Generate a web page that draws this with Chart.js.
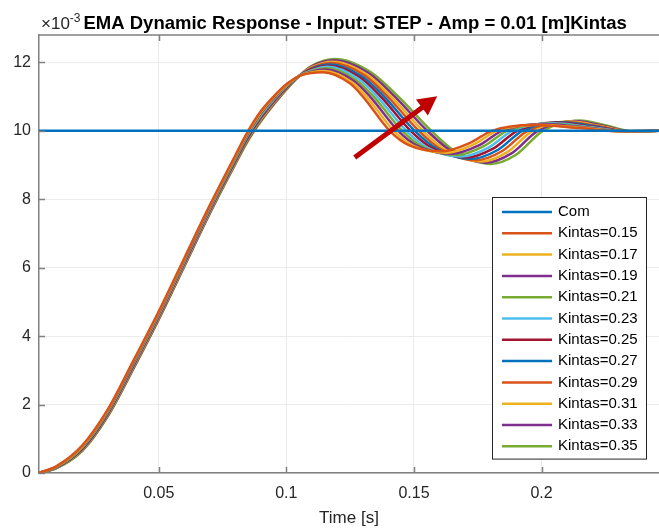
<!DOCTYPE html>
<html>
<head>
<meta charset="utf-8">
<title>EMA Dynamic Response</title>
<script src="https://cdn.jsdelivr.net/npm/chart.js@4.4.1/dist/chart.umd.min.js"></script>
<style>
    html, body { margin: 0; padding: 0; background: #fff; }
    #chart { display: block; }
</style>
</head>
<body>
<canvas id="chart" width="659" height="529"></canvas>
<script>
// --- Data (response in units of 1e-3 m) ---
const kintas = [0.15, 0.17, 0.19, 0.21, 0.23, 0.25, 0.27, 0.29, 0.31, 0.33, 0.35];

const comTime = [0.003, 0.246];
const comValues = [10, 10];

// rising part, same time samples for every Kintas value
const riseTime = [0.003, 0.01, 0.02, 0.03, 0.04, 0.05, 0.06, 0.07, 0.08, 0.085, 0.09, 0.095, 0.1, 0.105];
const riseValues = [
    [0, 0.20, 0.80, 1.85, 3.27, 4.72, 6.27, 7.82, 9.28, 9.99, 10.57, 11.00, 11.36, 11.6],
    [0, 0.19, 0.78, 1.83, 3.25, 4.70, 6.25, 7.80, 9.25, 9.96, 10.54, 10.98, 11.34, 11.6],
    [0, 0.19, 0.77, 1.81, 3.22, 4.67, 6.22, 7.77, 9.23, 9.93, 10.51, 10.95, 11.33, 11.6],
    [0, 0.18, 0.75, 1.79, 3.20, 4.65, 6.20, 7.75, 9.20, 9.91, 10.48, 10.93, 11.31, 11.6],
    [0, 0.18, 0.74, 1.77, 3.17, 4.62, 6.17, 7.72, 9.18, 9.88, 10.45, 10.90, 11.30, 11.6],
    [0, 0.17, 0.72, 1.75, 3.15, 4.60, 6.15, 7.70, 9.15, 9.85, 10.42, 10.88, 11.28, 11.6],
    [0, 0.16, 0.70, 1.73, 3.13, 4.58, 6.13, 7.68, 9.12, 9.82, 10.39, 10.86, 11.26, 11.6],
    [0, 0.16, 0.69, 1.71, 3.10, 4.55, 6.10, 7.65, 9.10, 9.79, 10.36, 10.83, 11.25, 11.6],
    [0, 0.15, 0.67, 1.69, 3.08, 4.53, 6.08, 7.63, 9.07, 9.77, 10.33, 10.81, 11.23, 11.6],
    [0, 0.15, 0.66, 1.67, 3.05, 4.50, 6.05, 7.60, 9.05, 9.74, 10.30, 10.78, 11.22, 11.6],
    [0, 0.14, 0.64, 1.65, 3.03, 4.48, 6.03, 7.58, 9.02, 9.71, 10.27, 10.76, 11.20, 11.6]
];

// oscillation part: peak, crossings, trough, second hump, settling
const waveTime = [
    [0.11, 0.1144, 0.125, 0.13, 0.1405, 0.148, 0.161, 0.172, 0.1805, 0.197, 0.215, 0.23, 0.246],
    [0.11, 0.1149, 0.1258, 0.1314, 0.1421, 0.1498, 0.1629, 0.1738, 0.1825, 0.1988, 0.216, 0.2306, 0.246],
    [0.11, 0.1153, 0.1266, 0.1328, 0.1438, 0.1516, 0.1648, 0.1756, 0.1845, 0.2006, 0.217, 0.2312, 0.246],
    [0.11, 0.1158, 0.1274, 0.1342, 0.1454, 0.1534, 0.1667, 0.1774, 0.1865, 0.2024, 0.218, 0.2318, 0.246],
    [0.11, 0.1162, 0.1282, 0.1356, 0.147, 0.1552, 0.1686, 0.1792, 0.1885, 0.2042, 0.219, 0.2324, 0.246],
    [0.11, 0.1167, 0.129, 0.137, 0.1487, 0.157, 0.1705, 0.181, 0.1905, 0.206, 0.22, 0.233, 0.246],
    [0.11, 0.1172, 0.1298, 0.1383, 0.1503, 0.1588, 0.1724, 0.1828, 0.1925, 0.2078, 0.221, 0.2336, 0.246],
    [0.11, 0.1176, 0.1306, 0.1397, 0.1519, 0.1606, 0.1743, 0.1846, 0.1945, 0.2096, 0.222, 0.2342, 0.246],
    [0.11, 0.1181, 0.1314, 0.1411, 0.1535, 0.1624, 0.1762, 0.1864, 0.1965, 0.2114, 0.223, 0.2348, 0.246],
    [0.11, 0.1185, 0.1322, 0.1425, 0.1552, 0.1642, 0.1781, 0.1882, 0.1985, 0.2132, 0.224, 0.2354, 0.246],
    [0.11, 0.119, 0.133, 0.1439, 0.1568, 0.166, 0.18, 0.19, 0.2005, 0.215, 0.225, 0.236, 0.246]
];
const waveValues = [
    [11.69, 11.71, 11.38, 11.0, 10.0, 9.58, 9.40, 9.65, 10.0, 10.17, 10.08, 9.99, 10.0],
    [11.71, 11.75, 11.41, 11.0, 10.0, 9.56, 9.36, 9.62, 10.0, 10.18, 10.09, 9.99, 10.0],
    [11.73, 11.79, 11.45, 11.0, 10.0, 9.55, 9.33, 9.58, 10.0, 10.20, 10.10, 9.99, 10.0],
    [11.75, 11.83, 11.48, 11.0, 10.0, 9.53, 9.29, 9.55, 10.0, 10.21, 10.10, 9.99, 10.0],
    [11.77, 11.87, 11.52, 11.0, 10.0, 9.51, 9.25, 9.51, 10.0, 10.22, 10.11, 9.99, 10.0],
    [11.80, 11.90, 11.55, 11.0, 10.0, 9.50, 9.22, 9.48, 10.0, 10.24, 10.12, 9.99, 10.0],
    [11.82, 11.94, 11.58, 11.0, 10.0, 9.48, 9.18, 9.44, 10.0, 10.25, 10.13, 9.98, 10.0],
    [11.84, 11.98, 11.62, 11.0, 10.0, 9.46, 9.14, 9.41, 10.0, 10.26, 10.14, 9.98, 10.0],
    [11.86, 12.02, 11.65, 11.0, 10.0, 9.44, 9.10, 9.37, 10.0, 10.27, 10.14, 9.98, 10.0],
    [11.88, 12.06, 11.69, 11.0, 10.0, 9.43, 9.07, 9.34, 10.0, 10.29, 10.15, 9.98, 10.0],
    [11.90, 12.10, 11.72, 11.0, 10.0, 9.41, 9.03, 9.30, 10.0, 10.30, 10.16, 9.98, 10.0]
];

const xLimits = [0.0031, 0.246];
const yLimits = [0, 12.8];
const xTicks = [0.05, 0.1, 0.15, 0.2];
const yTicks = [0, 2, 4, 6, 8, 10, 12];

// red arrow annotation (data coords: time, value)
const arrowTail = [0.1268, 9.22];
const arrowTip = [0.1591, 11.01];

const titleText = 'EMA Dynamic Response - Input: STEP - Amp = 0.01 [m]Kintas';
const xTitle = 'Time [s]';

// MATLAB default line colours
const palette = ['#0072BD', '#D95319', '#EDB120', '#7E2F8E', '#77AC30', '#4DBEEE', '#A2142F'];

const FONT = "'Liberation Sans', Arial, Helvetica, sans-serif";
Chart.defaults.font.family = FONT;

// --- Build datasets ---
function toPoints(xs, ys) {
    return xs.map((x, i) => ({ x: x, y: ys[i] }));
}

const datasets = [{
    label: 'Com',
    data: toPoints(comTime, comValues),
    borderColor: palette[0]
}];

kintas.forEach((k, i) => {
    datasets.push({
        label: 'Kintas=' + k.toFixed(2),
        data: toPoints(riseTime.concat(waveTime[i]), riseValues[i].concat(waveValues[i])),
        borderColor: palette[(i + 1) % palette.length]
    });
});

datasets.forEach(ds => {
    ds.borderWidth = 2.5;
    ds.pointRadius = 0;
    ds.fill = false;
    ds.cubicInterpolationMode = 'monotone';
});

// --- Plugins: MATLAB style frame, arrow, legend, title ---
const matlabFrame = {
    id: 'matlabFrame',
    afterDatasetsDraw(chart) {
        const { ctx, scales: { x, y } } = chart;
        ctx.save();

        // arrow
        const tx = x.getPixelForValue(arrowTail[0]), ty = y.getPixelForValue(arrowTail[1]);
        const px = x.getPixelForValue(arrowTip[0]), py = y.getPixelForValue(arrowTip[1]);
        const len = Math.hypot(px - tx, py - ty);
        const ux = (px - tx) / len, uy = (py - ty) / len;
        const hl = 19, hw = 10;
        ctx.strokeStyle = '#C00000';
        ctx.fillStyle = '#C00000';
        ctx.lineWidth = 5;
        ctx.beginPath();
        ctx.moveTo(tx, ty);
        ctx.lineTo(px - ux * (hl - 2), py - uy * (hl - 2));
        ctx.stroke();
        ctx.beginPath();
        ctx.moveTo(px, py);
        ctx.lineTo(px - ux * hl - uy * hw, py - uy * hl + ux * hw);
        ctx.lineTo(px - ux * hl + uy * hw, py - uy * hl - ux * hw);
        ctx.closePath();
        ctx.fill();
        ctx.restore();
    },
    afterDraw(chart) {
        const { ctx, chartArea: a, scales: { x, y } } = chart;
        ctx.save();

        // inward tick marks + top edge of the box
        ctx.strokeStyle = '#808080';
        ctx.lineWidth = 1.5;
        ctx.beginPath();
        xTicks.forEach(v => {
            const p = Math.round(x.getPixelForValue(v)) + 0.5;
            ctx.moveTo(p, a.bottom);
            ctx.lineTo(p, a.bottom - 6);
            ctx.moveTo(p, a.top);
            ctx.lineTo(p, a.top + 6);
        });
        yTicks.forEach(v => {
            const p = Math.round(y.getPixelForValue(v)) + 0.5;
            ctx.moveTo(a.left, p);
            ctx.lineTo(a.left + 6, p);
        });
        ctx.moveTo(a.left, a.top);
        ctx.lineTo(a.right, a.top);
        ctx.stroke();

        // legend box
        const sets = chart.data.datasets;
        const w = 154, rowH = 21.3;
        const h = sets.length * rowH + 6;
        const left = Math.round(a.right - 13 - w);
        const top = Math.round(a.bottom - 14 - h);
        ctx.fillStyle = '#fff';
        ctx.fillRect(left, top, w, h);
        ctx.strokeStyle = '#262626';
        ctx.lineWidth = 1;
        ctx.strokeRect(left + 0.5, top + 0.5, w, h);
        ctx.font = '15px ' + FONT;
        ctx.textBaseline = 'middle';
        ctx.textAlign = 'left';
        sets.forEach((ds, i) => {
            const yy = top + 15 + i * rowH;
            ctx.strokeStyle = ds.borderColor;
            ctx.lineWidth = 2.5;
            ctx.beginPath();
            ctx.moveTo(left + 10, yy);
            ctx.lineTo(left + 60, yy);
            ctx.stroke();
            ctx.fillStyle = '#000';
            ctx.fillText(ds.label, left + 66, yy);
        });

        // exponent label and title
        const base = a.top - 6;
        ctx.textBaseline = 'alphabetic';
        ctx.fillStyle = '#262626';
        ctx.font = '17px ' + FONT;
        let cx = a.left + 2;
        ctx.fillText('\u00d710', cx, base);
        cx += ctx.measureText('\u00d710').width;
        ctx.font = '12px ' + FONT;
        ctx.fillText('-3', cx, base - 7);
        cx += ctx.measureText('-3').width + 3;
        ctx.fillStyle = '#000';
        ctx.font = 'bold 18.5px ' + FONT;
        ctx.fillText(titleText, cx, base);

        ctx.restore();
    }
};

// --- Chart ---
const ctx = document.getElementById('chart').getContext('2d');
const chart = new Chart(ctx, {
    type: 'line',
    data: { datasets: datasets },
    options: {
        responsive: false,
        animation: false,
        events: [],
        layout: { padding: { top: 35, right: 0, bottom: 0, left: 0 } },
        plugins: {
            legend: { display: false },
            tooltip: { enabled: false },
            title: { display: false }
        },
        scales: {
            x: {
                type: 'linear',
                min: xLimits[0],
                max: xLimits[1],
                afterBuildTicks: s => { s.ticks = xTicks.map(v => ({ value: v })); },
                afterFit: s => { s.height = 56; },
                ticks: {
                    callback: v => String(v),
                    font: { size: 16 },
                    color: '#262626',
                    padding: 11,
                    maxRotation: 0
                },
                grid: { color: '#ebebeb', lineWidth: 1, drawTicks: false },
                border: { display: true, color: '#808080', width: 1.5 },
                title: {
                    display: true,
                    text: xTitle,
                    font: { size: 17 },
                    color: '#262626',
                    padding: { top: 0, bottom: 0 }
                }
            },
            y: {
                min: yLimits[0],
                max: yLimits[1],
                afterBuildTicks: s => { s.ticks = yTicks.map(v => ({ value: v })); },
                afterFit: s => { s.width = 39; },
                ticks: {
                    font: { size: 16 },
                    color: '#262626',
                    padding: 8
                },
                grid: { color: '#ebebeb', lineWidth: 1, drawTicks: false },
                border: { display: true, color: '#808080', width: 1.5 }
            }
        }
    },
    plugins: [matlabFrame]
});
</script>
</body>
</html>
